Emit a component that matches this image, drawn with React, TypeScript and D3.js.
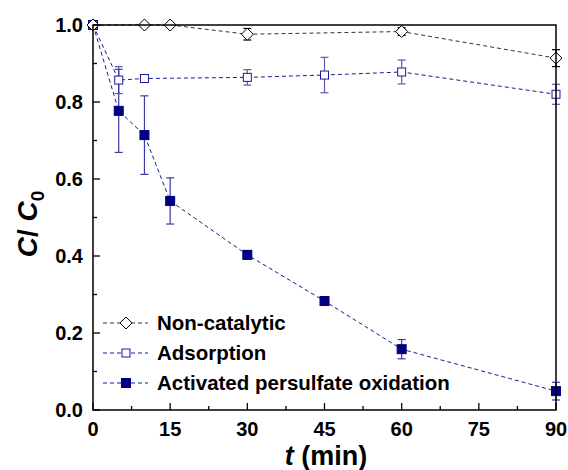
import * as d3 from "d3";

const times = [0, 5, 10, 15, 30, 45, 60, 90];

// Non-catalytic: no value at t=5 or t=45
const nonCatT = [0, 10, 15, 30, 60, 90];
const nonCatY = [1.0, 1.0, 1.0, 0.976, 0.983, 0.914];
const nonCatErr = [0, 0.005, 0.005, 0.015, 0.01, 0.022];

// Adsorption: no value at t=15
const adsT = [0, 5, 10, 30, 45, 60, 90];
const adsY = [1.0, 0.857, 0.861, 0.864, 0.87, 0.878, 0.82];
const adsErr = [0, 0.035, 0.005, 0.02, 0.046, 0.031, 0.026];

const apsY = [1.0, 0.777, 0.714, 0.543, 0.403, 0.283, 0.158, 0.049];
const apsErr = [0, 0.108, 0.102, 0.06, 0.01, 0.004, 0.025, 0.023];

const xTicks = [0, 15, 30, 45, 60, 75, 90];
const yTicks = [0, 0.2, 0.4, 0.6, 0.8, 1.0];
const legendLabels = ["Non-catalytic", "Adsorption", "Activated persulfate oxidation"];

type Pt = { t: number; y: number; e: number };

const W = 568;
const H = 470;
const m = { left: 93, right: 12, top: 25, bottom: 60 };

const App = () => {
  const x = d3.scaleLinear().domain([0, 90]).range([m.left, W - m.right]);
  const y = d3.scaleLinear().domain([0, 1]).range([H - m.bottom, m.top]);
  const line = d3
    .line<Pt>()
    .x((d) => x(d.t))
    .y((d) => y(d.y));

  const nonCat: Pt[] = nonCatT.map((t, i) => ({ t, y: nonCatY[i], e: nonCatErr[i] }));
  const ads: Pt[] = adsT.map((t, i) => ({ t, y: adsY[i], e: adsErr[i] }));
  const aps: Pt[] = times.map((t, i) => ({ t, y: apsY[i], e: apsErr[i] }));

  const font = "Arial, 'Liberation Sans', sans-serif";

  const errBars = (data: Pt[], color: string) =>
    data
      .filter((d) => d.e > 0)
      .map((d, i) => (
        <g key={i} stroke={color} strokeWidth={1.2}>
          <line x1={x(d.t)} x2={x(d.t)} y1={y(d.y + d.e)} y2={y(d.y - d.e)} />
          <line x1={x(d.t) - 4} x2={x(d.t) + 4} y1={y(d.y + d.e)} y2={y(d.y + d.e)} />
          <line x1={x(d.t) - 4} x2={x(d.t) + 4} y1={y(d.y - d.e)} y2={y(d.y - d.e)} />
        </g>
      ));

  const diamond = (cx: number, cy: number, k: string | number) => (
    <path
      key={k}
      d={`M${cx},${cy - 6}L${cx + 6},${cy}L${cx},${cy + 6}L${cx - 6},${cy}Z`}
      fill="white"
      stroke="black"
      strokeWidth={1}
    />
  );
  const hollowSq = (cx: number, cy: number, k: string | number) => (
    <rect key={k} x={cx - 4} y={cy - 4} width={8} height={8} fill="white" stroke="#1a1a99" strokeWidth={1} />
  );
  const filledSq = (cx: number, cy: number, k: string | number) => (
    <rect key={k} x={cx - 4.5} y={cy - 4.5} width={9} height={9} fill="#000080" stroke="#000080" />
  );

  const minorX = d3.range(0, 91, 7.5);
  const minorY = d3.range(0, 1.001, 0.1);
  const x0 = x(0);
  const y0 = y(0);

  const legendColors = ["#333", "#1a1a99", "#1a1a99"];
  const legendMarks = [diamond, hollowSq, filledSq];

  return (
    <svg width={W} height={H} style={{ position: "absolute", left: 0, top: 0 }}>
      {/* series lines */}
      <path d={line(nonCat)!} fill="none" stroke="#333" strokeWidth={1} strokeDasharray="4,3" />
      <path d={line(ads)!} fill="none" stroke="#1a1a99" strokeWidth={1} strokeDasharray="4,3" />
      <path d={line(aps)!} fill="none" stroke="#1a1a99" strokeWidth={1} strokeDasharray="4,3" />

      {errBars(nonCat, "black")}
      {errBars(ads, "#5a5ab0")}
      {errBars(aps, "#3a3aa0")}

      {aps.map((d, i) => filledSq(x(d.t), y(d.y), "a" + i))}
      {ads.map((d, i) => hollowSq(x(d.t), y(d.y), "s" + i))}
      {nonCat.map((d, i) => diamond(x(d.t), y(d.y), "n" + i))}

      {/* frame */}
      <rect
        x={x0}
        y={y(1)}
        width={x(90) - x0}
        height={y0 - y(1)}
        fill="none"
        stroke="black"
        strokeWidth={1.5}
      />
      {minorX.map((t, i) => (
        <line
          key={"xt" + i}
          x1={x(t)}
          x2={x(t)}
          y1={y0}
          y2={y0 - (i % 2 === 0 ? 7 : 4)}
          stroke="black"
          strokeWidth={1.3}
        />
      ))}
      {minorY.map((v, i) => (
        <line
          key={"yt" + i}
          x1={x0}
          x2={x0 + (i % 2 === 0 ? 7 : 4)}
          y1={y(v)}
          y2={y(v)}
          stroke="black"
          strokeWidth={1.3}
        />
      ))}
      {xTicks.map((t) => (
        <text
          key={"xl" + t}
          x={x(t)}
          y={y0 + 26}
          textAnchor="middle"
          fontFamily={font}
          fontWeight="bold"
          fontSize={20}
        >
          {t}
        </text>
      ))}
      {yTicks.map((v) => (
        <text
          key={"yl" + v}
          x={x0 - 10}
          y={y(v)}
          dy="0.36em"
          textAnchor="end"
          fontFamily={font}
          fontWeight="bold"
          fontSize={20}
        >
          {v.toFixed(1)}
        </text>
      ))}

      {/* axis titles */}
      <text x={326} y={H - 5} textAnchor="middle" fontFamily={font} fontWeight="bold" fontSize={27}>
        <tspan fontStyle="italic">t</tspan> (min)
      </text>
      <text
        transform={`translate(37, 224) rotate(-90)`}
        textAnchor="middle"
        fontFamily={font}
        fontWeight="bold"
        fontSize={28}
      >
        <tspan fontStyle="italic">C</tspan>/ <tspan fontStyle="italic">C</tspan>
        <tspan fontSize={19} dy={7}>0</tspan>
      </text>

      {/* legend */}
      {legendLabels.map((label, i) => {
        const ly = 323 + i * 30;
        return (
          <g key={label}>
            <line x1={103} x2={148} y1={ly} y2={ly} stroke={legendColors[i]} strokeDasharray="4,3" />
            {legendMarks[i](126, ly, "lm" + i)}
            <text x={157} y={ly} dy="0.36em" fontFamily={font} fontWeight="bold" fontSize={20.5}>
              {label}
            </text>
          </g>
        );
      })}
    </svg>
  );
};

export default App;
